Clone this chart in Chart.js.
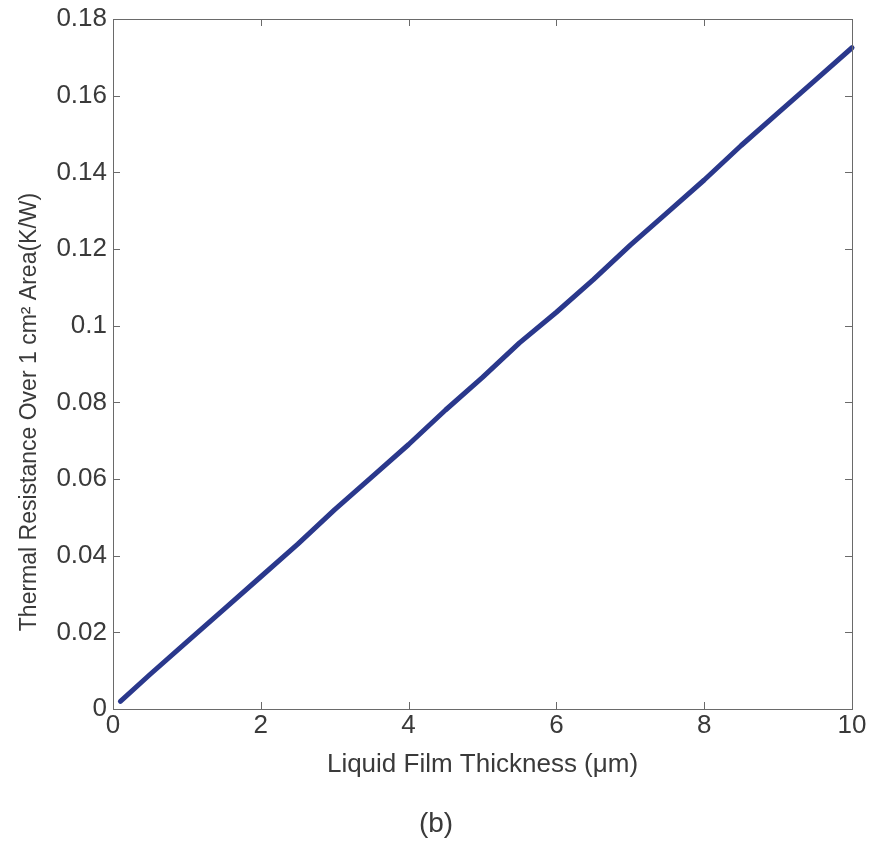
<!DOCTYPE html>
<html>
<head>
<meta charset="utf-8">
<script src="https://cdn.jsdelivr.net/npm/chart.js@4/dist/chart.umd.min.js"></script>
<style>
  html, body { margin: 0; padding: 0; background: #fff; }
  #wrap { width: 872px; height: 841px; }
</style>
</head>
<body>
<div id="wrap"><canvas id="chart" width="872" height="841"></canvas></div>
<script>
// values
const thickness = [0.1, 0.5, 1, 1.5, 2, 2.5, 3, 3.5, 4, 4.5, 5, 5.5, 6, 6.5, 7, 7.5, 8, 8.5, 9, 9.5, 10];
const resistance = [0.002, 0.009, 0.0175, 0.026, 0.0345, 0.043, 0.052, 0.0605, 0.069, 0.078, 0.0865,
    0.0955, 0.1035, 0.112, 0.121, 0.1295, 0.138, 0.147, 0.1555, 0.164, 0.1725];
const xTicks = [0, 2, 4, 6, 8, 10];
const yTicks = [0, 0.02, 0.04, 0.06, 0.08, 0.1, 0.12, 0.14, 0.16, 0.18];
const yTitle = "Thermal Resistance Over 1 cm² Area(K/W)";

const TEXT = "#3a3a3a";
const FRAME = "#6a6a6a";
const FONT = "'Liberation Sans', Arial, sans-serif";

function toXY(xs, ys) {
    return xs.map((x, i) => ({ x: x, y: ys[i] }));
}

// MATLAB style box with ticks pointing inward
const boxPlugin = {
    id: "box",
    afterDatasetsDraw(chart) {
        const { ctx, chartArea: a, scales } = chart;
        const len = 7;
        ctx.save();
        ctx.strokeStyle = FRAME;
        ctx.lineWidth = 1;
        ctx.strokeRect(a.left + 0.5, a.top + 0.5, a.right - a.left, a.bottom - a.top);
        ctx.beginPath();
        xTicks.forEach(v => {
            const px = Math.round(scales.x.getPixelForValue(v)) + 0.5;
            ctx.moveTo(px, a.bottom); ctx.lineTo(px, a.bottom - len);
            ctx.moveTo(px, a.top); ctx.lineTo(px, a.top + len);
        });
        yTicks.forEach(v => {
            const py = Math.round(scales.y.getPixelForValue(v)) + 0.5;
            ctx.moveTo(a.left, py); ctx.lineTo(a.left + len, py);
            ctx.moveTo(a.right, py); ctx.lineTo(a.right - len, py);
        });
        ctx.stroke();

        // y axis title sits a bit below the middle in the original
        ctx.translate(30, (a.top + a.bottom) / 2 + 48);
        ctx.rotate(-Math.PI / 2);
        ctx.fillStyle = TEXT;
        ctx.font = "23px " + FONT;
        ctx.textAlign = "center";
        ctx.textBaseline = "middle";
        ctx.fillText(yTitle, 0, 0);
        ctx.restore();
    }
};

const ctx = document.getElementById("chart").getContext("2d");
const chart = new Chart(ctx, {
    type: "line",
    data: {
        datasets: [{
            data: toXY(thickness, resistance),
            borderColor: "#2a388c",
            borderWidth: 5,
            borderCapStyle: "round",
            borderJoinStyle: "round",
            pointRadius: 0,
            tension: 0,
            clip: false
        }]
    },
    options: {
        responsive: false,
        animation: false,
        parsing: false,
        layout: { padding: { left: 0, right: 0, top: 18, bottom: 0 } },
        plugins: {
            legend: { display: false },
            tooltip: { enabled: false },
            title: {
                display: true,
                position: "bottom",
                align: "center",
                text: "(b)",
                color: TEXT,
                font: { family: FONT, size: 28, weight: "normal", lineHeight: 1 },
                padding: { top: 13, bottom: 3 }
            }
        },
        scales: {
            x: {
                type: "linear",
                min: 0,
                max: 10,
                afterBuildTicks: s => { s.ticks = xTicks.map(v => ({ value: v })); },
                afterFit: s => { s.height = 88; },
                grid: { display: false, drawTicks: false },
                border: { display: false },
                ticks: {
                    color: TEXT,
                    padding: 4,
                    maxRotation: 0,
                    font: { family: FONT, size: 26, lineHeight: 1 },
                    callback: v => String(v)
                },
                title: {
                    display: true,
                    text: "Liquid Film Thickness (μm)",
                    color: TEXT,
                    font: { family: FONT, size: 26, lineHeight: 1 },
                    padding: { top: 0, bottom: 19 }
                }
            },
            y: {
                type: "linear",
                min: 0,
                max: 0.18,
                afterBuildTicks: s => { s.ticks = yTicks.map(v => ({ value: v })); },
                afterFit: s => { s.width = 113; },
                grid: { display: false, drawTicks: false },
                border: { display: false },
                ticks: {
                    color: TEXT,
                    padding: 6,
                    font: { family: FONT, size: 26, lineHeight: 1 },
                    callback: v => String(Number(v.toFixed(2)))
                }
            },
            yRight: {
                type: "linear",
                position: "right",
                min: 0,
                max: 0.18,
                afterFit: s => { s.width = 20; },
                grid: { display: false, drawTicks: false },
                border: { display: false },
                ticks: { display: false }
            }
        }
    },
    plugins: [boxPlugin]
});
</script>
</body>
</html>
